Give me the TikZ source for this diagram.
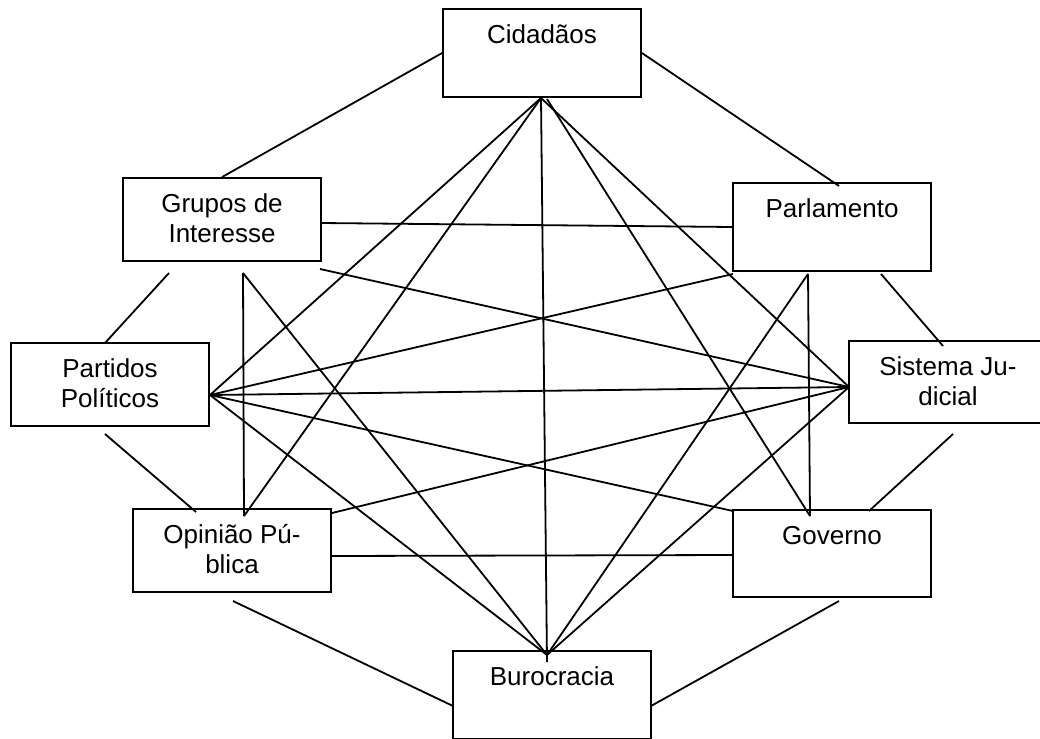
\documentclass[tikz,border=0pt]{standalone}
\usepackage{fontspec}
\setmainfont{Liberation Sans}
\begin{document}
\begin{tikzpicture}[x=1pt,y=-1pt,
  box/.style={draw, line width=1.8pt, minimum width=198pt, inner sep=0pt},
  lbl/.style={font=\fontsize{26}{30}\selectfont, align=center, inner sep=0pt, anchor=north},
  conn/.style={line width=1.8pt}]
\useasboundingbox (0,0) rectangle (1040,738);

% boxes
\node[box, minimum height=88pt] (cid) at (542,53) {};
\node[box, minimum height=83pt] (gru) at (222,219.5) {};
\node[box, minimum height=88pt] (par) at (832,227) {};
\node[box, minimum height=83pt] (pp) at (110,384.5) {};
\node[box, minimum height=82pt] (sj) at (948,382) {};
\node[box, minimum height=83pt] (op) at (232,550.5) {};
\node[box, minimum height=87pt] (gov) at (832,553.5) {};
\node[box, minimum height=88pt] (bur) at (552,695) {};

% labels
\node[lbl] (cidT) at ([yshift=-14pt]cid.north) {\strut Cidadãos};
\node[lbl] (gruT) at ([yshift=-14pt]gru.north) {\strut Grupos de\\\strut Interesse};
\node[lbl] (parT) at ([yshift=-14pt]par.north) {\strut Parlamento};
\node[lbl] (ppT0) at ([yshift=-14pt]pp.north) {\strut Partidos\\\strut Políticos};
\node[lbl] (sjT0) at ([yshift=-14pt]sj.north) {\strut Sistema Ju-\\\strut dicial};
\node[lbl] (opT0) at ([yshift=-14pt]op.north) {\strut Opinião Pú-\\\strut blica};
\node[lbl] (govT0) at ([yshift=-14pt]gov.north) {\strut Governo};
\node[lbl] (burT0) at ([yshift=-14pt]bur.north) {\strut Burocracia};

% connector end points
\coordinate (cidB) at (541,98);
\coordinate (cidB2) at (547,99);
\coordinate (gruB) at (243,273);
\coordinate (gruR) at (321,223);
\coordinate (gruR2) at (320,269);
\coordinate (gruO) at (169,273);
\coordinate (parN) at (839,186);
\coordinate (parB) at (808,274);
\coordinate (parL) at (733,274);
\coordinate (parO) at (881,274);
\coordinate (ppR) at (210,395);
\coordinate (ppT) at (105,343);
\coordinate (ppO) at (105,434);
\coordinate (sjL) at (849,387);
\coordinate (sjT) at (943,346);
\coordinate (sjO) at (953,434);
\coordinate (opT) at (244,516);
\coordinate (opC) at (332,513);
\coordinate (opR) at (332,556);
\coordinate (opT2) at (196,512);
\coordinate (opO) at (233,601);
\coordinate (govT) at (810,516);
\coordinate (govC) at (733,511);
\coordinate (govL) at (733,555);
\coordinate (govT2) at (869,511);
\coordinate (govO) at (839,601);
\coordinate (burT) at (547,655);
\coordinate (burV) at (547,662);
\coordinate (burL) at (453,706);
\coordinate (burR) at (651,706);

% outer ring
\draw[conn] (cid.west) -- (gru.north);
\draw[conn] (cid.east) -- (parN);
\draw[conn] (gruO) -- (ppT);
\draw[conn] (parO) -- (sjT);
\draw[conn] (ppO) -- (opT2);
\draw[conn] (sjO) -- (govT2);
\draw[conn] (opO) -- (burL);
\draw[conn] (govO) -- (burR);

% inner connectors
\draw[conn] (gruR) -- (par.west);
\draw[conn] (gruR2) -- (sjL);
\draw[conn] (gruB) -- (opT);
\draw[conn] (gruB) -- (burT);
\draw[conn] (parL) -- (ppR);
\draw[conn] (parB) -- (govT);
\draw[conn] (parB) -- (burT);
\draw[conn] (cidB) -- (ppR);
\draw[conn] (cidB) -- (opT);
\draw[conn] (cidB) -- (burV);
\draw[conn] (cidB) -- (sjL);
\draw[conn] (cidB2) -- (govT);
\draw[conn] (ppR) -- (sjL);
\draw[conn] (ppR) -- (govC);
\draw[conn] (ppR) -- (burT);
\draw[conn] (sjL) -- (opC);
\draw[conn] (sjL) -- (burT);
\draw[conn] (opR) -- (govL);
\end{tikzpicture}
\end{document}
